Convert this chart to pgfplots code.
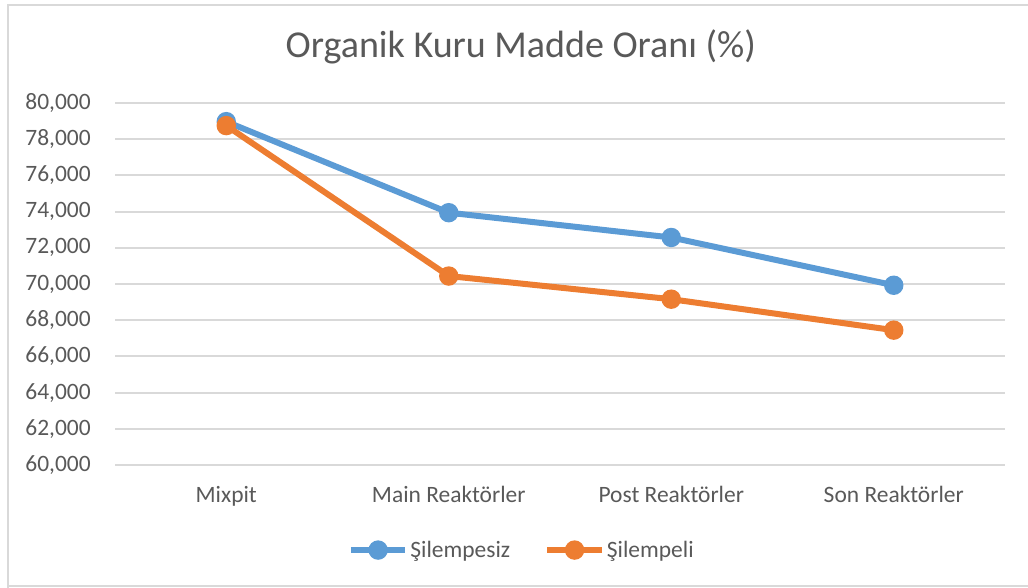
\documentclass[border=0pt]{standalone}
\usepackage{pgfplots}
\pgfplotsset{compat=1.18}
\usepackage{fontspec}
\setmainfont{Carlito}
\definecolor{cblue}{HTML}{5B9BD5}
\definecolor{corange}{HTML}{ED7D31}
\definecolor{ctext}{HTML}{595959}
\definecolor{cgrid}{HTML}{D9D9D9}
\begin{document}
\begin{tikzpicture}
\useasboundingbox (0,0) rectangle (771pt,441pt);
\draw[cgrid, line width=1.2pt] (6pt,0pt) -- (6pt,437.25pt) -- (771pt,437.25pt);
\draw[cgrid, line width=1.2pt] (6pt,1.5pt) -- (771pt,1.5pt);
\begin{axis}[
  at={(86.25pt,92.25pt)},
  scale only axis,
  width=667.5pt, height=271.5pt,
  xmin=-0.5, xmax=3.5,
  ymin=60, ymax=80,
  xtick={0,1,2,3},
  xticklabels={Mixpit, Main Reaktörler, Post Reaktörler, Son Reaktörler},
  ytick={60,62,...,80},
  ymajorgrids,
  grid style={draw=cgrid, line width=1.5pt},
  axis line style={draw=none},
  tick style={draw=none},
  /pgf/number format/.cd, fixed, fixed zerofill, precision=3, use comma, assume math mode=true,
  /pgfplots/.cd,
  ticklabel style={font=\fontsize{17.6}{21}\selectfont, text=ctext, inner sep=0pt},
  yticklabel style={anchor=east, xshift=-18pt},
  xticklabel style={anchor=base, yshift=-28.5pt},
  title={Organik Kuru Madde Oranı (\%)},
  title style={at={(axis description cs:0.456,1.103)}, anchor=base, font=\fontsize{28.5}{34}\selectfont, text=ctext, inner sep=0pt},
  legend style={at={(axis description cs:0.457,-0.235)}, anchor=center, draw=none, fill=none,
    legend columns=2, font=\fontsize{17.6}{21}\selectfont, text=ctext,
    nodes={inner sep=1.5pt},
    /tikz/every even column/.append style={column sep=24pt}},
  legend image code/.code={\draw[mark repeat=2,mark phase=2] plot coordinates {(0pt,0pt) (20.5pt,0pt) (41pt,0pt)};},
  clip=false,
]
\addplot[cblue, line width=4.5pt, mark=*, mark size=5pt, mark options={solid}] coordinates {
  (0,78.97) (1,73.94) (2,72.57) (3,69.93)
};
\addlegendentry{Şilempesiz}
\addplot[corange, line width=4.5pt, mark=*, mark size=5pt, mark options={solid}] coordinates {
  (0,78.75) (1,70.44) (2,69.16) (3,67.45)
};
\addlegendentry{Şilempeli}
\end{axis}
\end{tikzpicture}
\end{document}
